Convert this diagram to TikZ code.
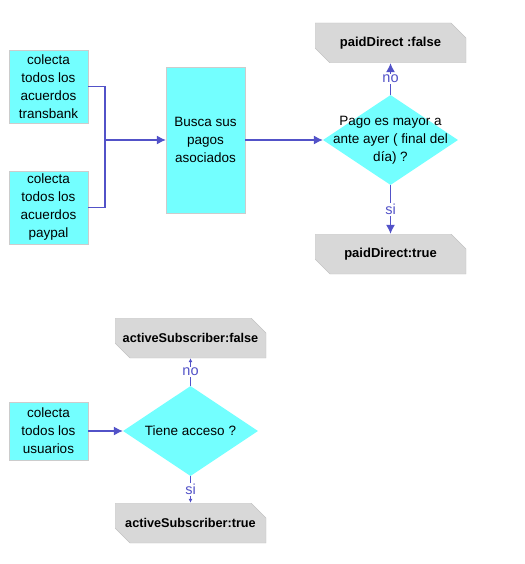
\documentclass[tikz,border=0pt]{standalone}
\usepackage{fontspec}
\setmainfont{Liberation Sans}
\usetikzlibrary{shapes.geometric,arrows.meta}
\definecolor{celeste}{HTML}{73FFFF}
\definecolor{gris}{HTML}{D8D8D8}
\definecolor{flecha}{HTML}{5252C8}
\definecolor{borde}{HTML}{CCCCCC}
\tikzset{
  proceso/.style={draw=borde, fill=celeste, minimum width=79pt, inner sep=0pt, align=center, font=\fontsize{13.5}{18}\selectfont},
  decision/.style={diamond, fill=celeste, minimum width=135pt, minimum height=90pt, inner sep=0pt},
  tarjeta/.style={minimum width=151pt, minimum height=40pt, inner sep=0pt, font=\bfseries\fontsize{13}{16}\selectfont,
    path picture={\fill[gris, draw=gris!90!black, line width=0.4pt] (path picture bounding box.north west) -- ([xshift=-15pt]path picture bounding box.north east) -- ([yshift=-15pt]path picture bounding box.north east) -- (path picture bounding box.south east) -- ([xshift=15pt]path picture bounding box.south west) -- ([yshift=15pt]path picture bounding box.south west) -- cycle;}},
  linea/.style={draw=flecha, line width=1.1pt},
  flujo/.style={linea, -{Latex[length=9pt,width=9pt]}},
  flujochico/.style={linea, -{Latex[length=4pt,width=4pt]}},
  etiq/.style={fill=white, inner sep=1pt, text=flecha, font=\fontsize{14.5}{15}\selectfont}
}
\begin{document}
\begin{tikzpicture}[x=1pt, y=-1pt]
    \useasboundingbox (0,0) rectangle (524,564);
    % Pagos
    \node[proceso, minimum height=73pt] (transbank) at (48.5,86.5) {colecta\\todos los\\acuerdos\\transbank};
    \node[proceso, minimum height=73pt] (paypal) at (48.5,207.5) {colecta\\todos los\\acuerdos\\paypal};
    \node[proceso, minimum height=146pt] (busca) at (205.5,140) {Busca sus\\pagos\\asociados};
    \node[decision, label={[align=center, font=\fontsize{13.5}{18}\selectfont]center:Pago es mayor a\\ante ayer ( final del\\día) ?}] (pago) at (390.5,140) {};
    \node[tarjeta] (falso1) at (390.5,43) {paidDirect :false};
    \node[tarjeta] (cierto1) at (390.5,254) {paidDirect:true};
    \coordinate (union) at (105,140);
    \draw[linea] (transbank.east) -| (union);
    \draw[linea] (paypal.east) -| (union);
    \draw[flujo] (union) -- (busca);
    \draw[flujo] (busca) -- (pago);
    \draw[flujo] (pago) -- node[etiq] {no} (falso1);
    \draw[flujo] (pago) -- node[etiq] {si} (cierto1);
    % Suscriptores
    \node[proceso, minimum height=58pt] (usuarios) at (48.5,431) {colecta\\todos los\\usuarios};
    \node[decision, label={[font=\fontsize{13.5}{18}\selectfont]center:Tiene acceso ?}] (acceso) at (190.5,431) {};
    \node[tarjeta, font=\bfseries\fontsize{12.7}{16}\selectfont] (falso2) at (190.5,338) {activeSubscriber:false};
    \node[tarjeta, font=\bfseries\fontsize{12.7}{16}\selectfont] (cierto2) at (190.5,523) {activeSubscriber:true};
    \draw[flujo] (usuarios) -- (acceso);
    \draw[flujochico] (acceso) -- node[etiq] {no} (falso2);
    \draw[flujochico] (acceso) -- node[etiq] {si} (cierto2);
\end{tikzpicture}
\end{document}
